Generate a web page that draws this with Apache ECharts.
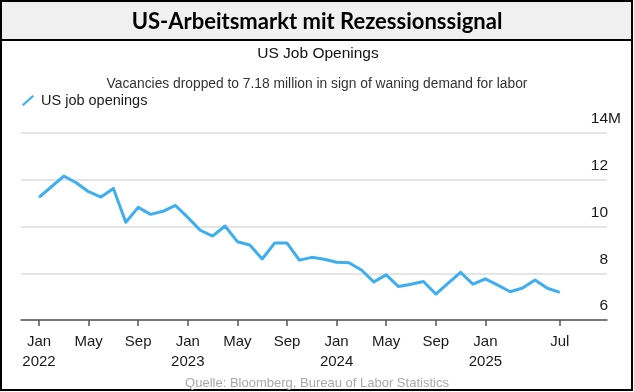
<!DOCTYPE html>
<html><head><meta charset="utf-8">
<script src="https://cdn.jsdelivr.net/npm/echarts@6/dist/echarts.min.js"></script>
<style>html,body{margin:0;padding:0;background:#fff}#c{width:634px;height:392px}</style>
</head><body><div id="c"></div>
<script>
const headline = 'US-Arbeitsmarkt mit Rezessionssignal';
const chartTitle = 'US Job Openings';
const chartSubtitle = 'Vacancies dropped to 7.18 million in sign of waning demand for labor';
const sourceNote = 'Quelle: Bloomberg, Bureau of Labor Statistics';
const seriesName = 'US job openings';
// monthly values, Jan 2022 .. Jul 2025 (millions)
const openings = [
  11.25, 11.70, 12.16, 11.87, 11.49, 11.26, 11.63, 10.18, 10.82, 10.52, 10.65, 10.90,
  10.39, 9.84, 9.59, 10.02, 9.35, 9.21, 8.61, 9.29, 9.29, 8.56, 8.68, 8.60,
  8.47, 8.45, 8.14, 7.63, 7.93, 7.43, 7.53, 7.65, 7.11, 7.58, 8.04, 7.53,
  7.76, 7.49, 7.21, 7.37, 7.71, 7.36, 7.18
];
const tickMonths = [0, 4, 8, 12, 16, 20, 24, 28, 32, 36, 42];
const tickLabels = ['Jan\n2022', 'May', 'Sep', 'Jan\n2023', 'May', 'Sep', 'Jan\n2024', 'May', 'Sep', 'Jan\n2025', 'Jul'];
const yTicks = [6, 8, 10, 12, 14];
const yLabels = ['6', '8', '10', '12', '14'];
const yUnit = 'M';

const FONT = '"Liberation Sans", Arial, sans-serif';
const BLUE = '#3daef0';
const chart = echarts.init(document.getElementById('c'), null, {renderer: 'canvas'});
const points = openings.map((v, i) => [i, v]);

chart.setOption({
  animation: false,
  backgroundColor: '#fff',
  grid: {left: 21, right: 27, top: 133, bottom: 72, containLabel: false},
  legend: {
    data: [{name: seriesName, icon: 'path://M0,9.5 L10.5,0 L12,1.5 L1.5,11 Z'}],
    left: 22, top: 92, padding: 0, itemWidth: 12, itemHeight: 11, selectedMode: false,
    textStyle: {fontFamily: FONT, fontSize: 14.5, color: '#1a1a1a', lineHeight: 17, padding: [0, 0, 0, 2]}
  },
  xAxis: {
    type: 'value', min: -1.4516, max: 45.806,
    axisLine: {show: true, lineStyle: {color: '#555', width: 1.5}},
    axisTick: {show: true, customValues: tickMonths, length: 6, lineStyle: {color: '#555', width: 1.5}},
    axisLabel: {
      customValues: tickMonths,
      formatter: v => tickLabels[tickMonths.indexOf(v)],
      fontFamily: FONT, fontSize: 15, lineHeight: 19.5, color: '#1a1a1a', margin: 12.5
    },
    splitLine: {show: false}
  },
  yAxis: {
    type: 'value', position: 'right', min: 6, max: 14, interval: 2,
    axisLine: {show: false}, axisTick: {show: false},
    splitLine: {show: true, lineStyle: {color: '#dcdcdc', width: 1.5}},
    axisLabel: {
      margin: 14, align: 'right', verticalAlign: 'bottom', padding: [0, 0, 5, 0],
      formatter: v => {
        const i = yTicks.indexOf(v);
        const unit = v === yTicks[yTicks.length - 1] ? yUnit : ' ';
        return '{n|' + yLabels[i] + '}{u|' + unit + '}';
      },
      rich: {
        n: {fontFamily: FONT, fontSize: 15.5, color: '#1a1a1a', lineHeight: 18},
        u: {fontFamily: FONT, fontSize: 15.5, color: '#1a1a1a', lineHeight: 18, width: 13, align: 'left'}
      }
    }
  },
  series: [{
    name: seriesName, type: 'line', data: points, showSymbol: false, symbol: 'none',
    lineStyle: {color: BLUE, width: 3, join: 'round'}, itemStyle: {color: BLUE}, z: 5
  }],
  graphic: [
    {type: 'rect', shape: {x: 1, y: 1, width: 631, height: 39}, style: {fill: '#f0f0f0', stroke: '#000', lineWidth: 2}, z: 1},
    {type: 'rect', shape: {x: 1, y: 1, width: 631, height: 389}, style: {fill: 'none', stroke: '#000', lineWidth: 2}, z: 2},
    {type: 'text', x: 317, y: 22, style: {text: headline, font: 'bold 22px Lato, "Open Sans", sans-serif', fill: '#000', textAlign: 'center', textVerticalAlign: 'middle'}, z: 3},
    {type: 'text', x: 318, y: 54, style: {text: chartTitle, font: '15.5px ' + FONT, fill: '#111', textAlign: 'center', textVerticalAlign: 'middle'}, z: 3},
    {type: 'text', x: 317, y: 84, style: {text: chartSubtitle, font: '13.8px ' + FONT, fill: '#333', textAlign: 'center', textVerticalAlign: 'middle'}, z: 3},
    {type: 'text', x: 317, y: 383, style: {text: sourceNote, font: '13px ' + FONT, fill: '#a8a8a8', textAlign: 'center', textVerticalAlign: 'middle'}, z: 3}
  ]
});
</script></body></html>
